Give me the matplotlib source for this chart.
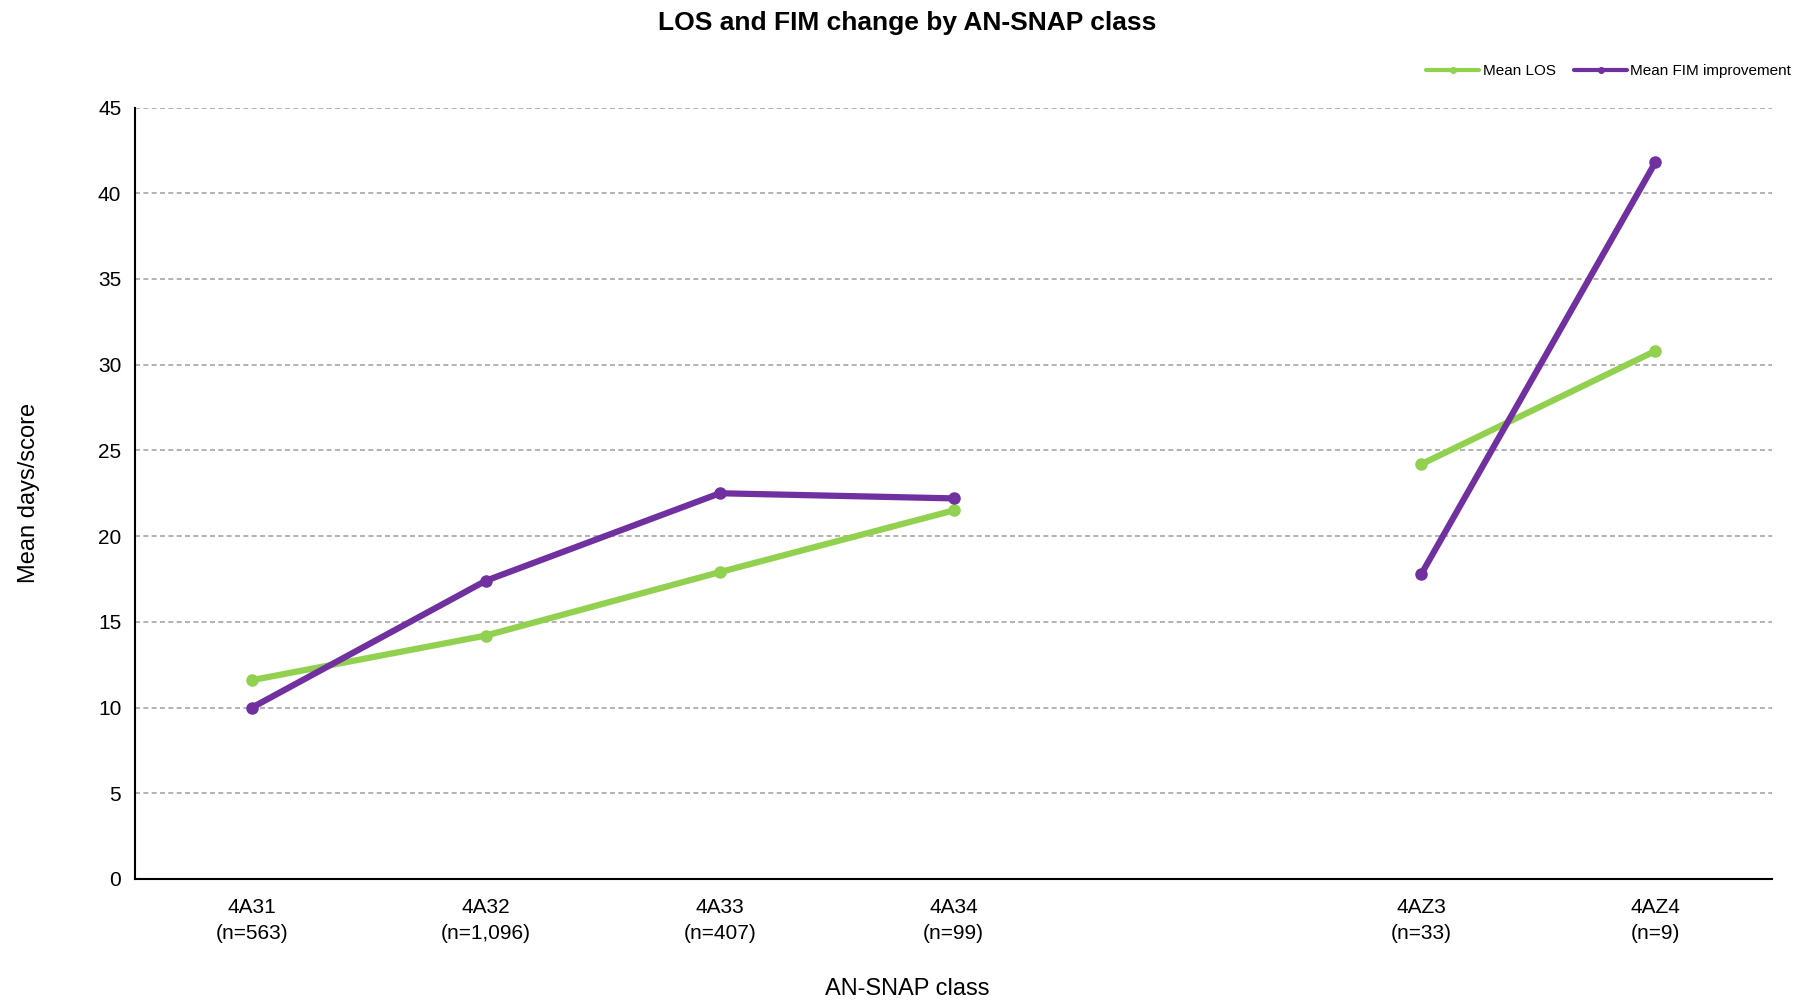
import numpy as np
import matplotlib
matplotlib.use("Agg")
import matplotlib.pyplot as plt

# data
classes = ['4A31\n(n=563)', '4A32\n(n=1,096)', '4A33\n(n=407)', '4A34\n(n=99)', '', '4AZ3\n(n=33)', '4AZ4\n(n=9)']
mean_los = [11.6, 14.2, 17.9, 21.5, np.nan, 24.2, 30.8]
mean_fim = [10.0, 17.4, 22.5, 22.2, np.nan, 17.8, 41.8]

narrow = ['Liberation Sans Narrow', 'Liberation Sans', 'DejaVu Sans']

fig = plt.figure(figsize=(18.14, 10.05), dpi=100)
ax = fig.add_axes([0.0745, 0.1254, 0.9025, 0.7676])

x = np.arange(len(classes))
ax.plot(x, mean_los, color='#92D050', lw=4.5, marker='o', ms=8, label='Mean LOS', solid_capstyle='round')
ax.plot(x, mean_fim, color='#7030A0', lw=4.5, marker='o', ms=8, label='Mean FIM improvement', solid_capstyle='round')

ax.set_xlim(-0.5, len(classes) - 0.5)
ax.set_ylim(0, 45)
ax.set_yticks(range(0, 50, 5))
ax.set_xticks(x)
ax.set_xticklabels(classes)
ax.yaxis.grid(True, linestyle=(0, (3, 2)), color='#A6A6A6', lw=1.2)
ax.set_axisbelow(True)
for s in ['top', 'right']:
    ax.spines[s].set_visible(False)
for s in ['left', 'bottom']:
    ax.spines[s].set_linewidth(1.5)
    ax.spines[s].set_color('black')
ax.tick_params(axis='both', length=0, pad=10)
ax.tick_params(axis='x', pad=14)
for lab in ax.get_xticklabels() + ax.get_yticklabels():
    lab.set_family(narrow)
    lab.set_fontsize(15)
for lab in ax.get_xticklabels():
    lab.set_linespacing(1.45)

ax.set_ylabel('Mean days/score', family=narrow, fontsize=17)
ax.yaxis.set_label_coords(-0.058, 0.5)
fig.text(0.5, 0.005, 'AN-SNAP class', family=narrow, fontsize=17, ha='center', va='bottom')
fig.text(0.5, 0.977, 'LOS and FIM change by AN-SNAP class', family=narrow, fontsize=19,
         fontweight='bold', ha='center', va='center')

leg = ax.legend(loc='lower right', bbox_to_anchor=(1.02, 1.02), ncol=2, frameon=False,
                prop={'family': narrow, 'size': 11}, handlelength=3.5, markerscale=0.5,
                columnspacing=1.2, handletextpad=0.2)
for h in leg.get_lines():
    h.set_linewidth(3)

fig.savefig('out.png', dpi=100)
